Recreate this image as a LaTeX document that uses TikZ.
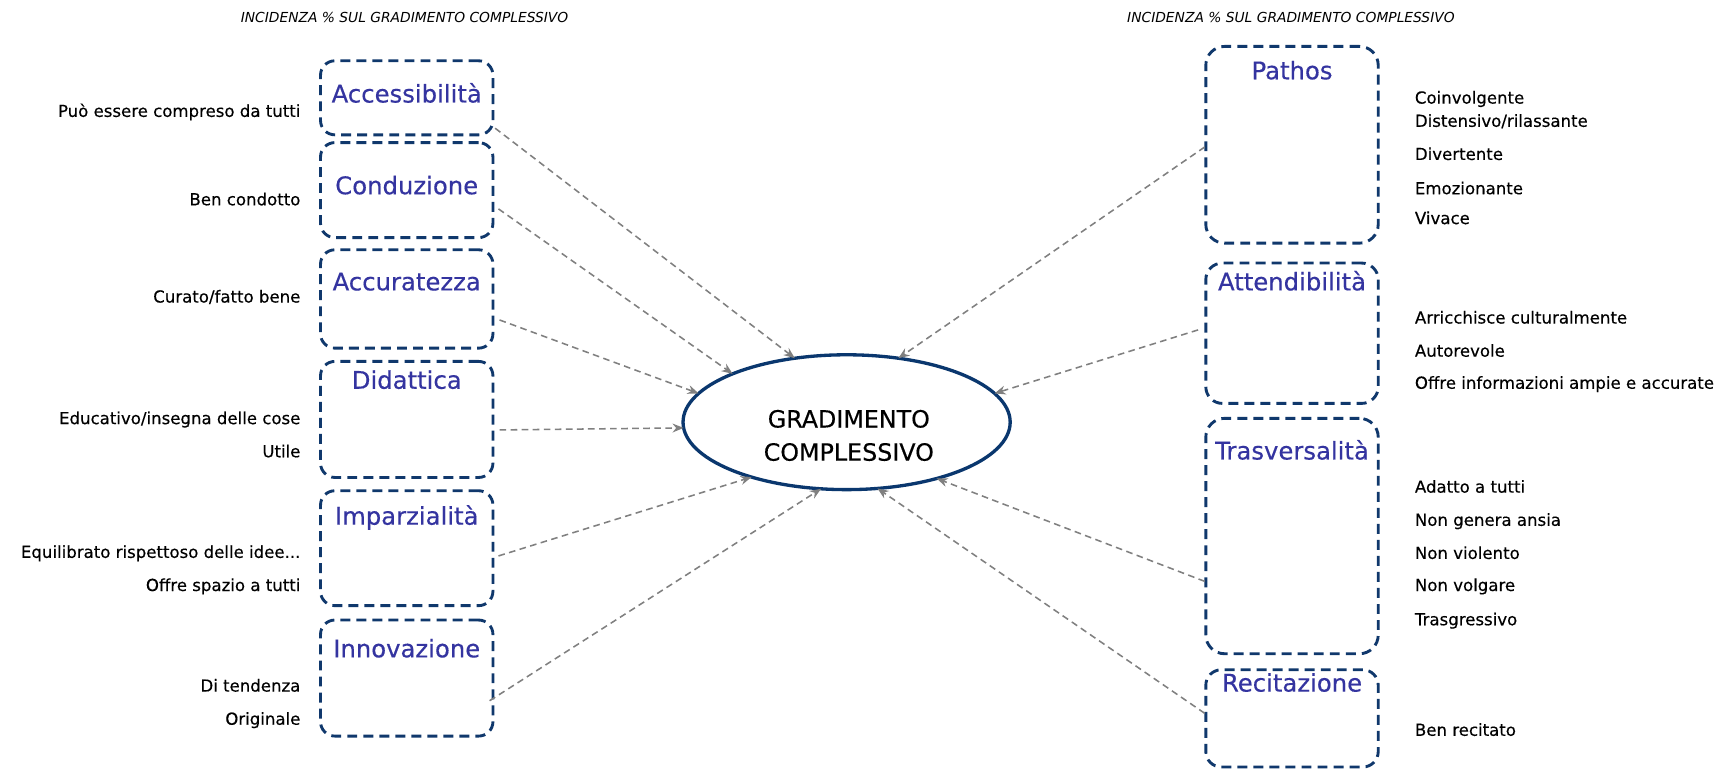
\documentclass[tikz,border=0pt]{standalone}
\usepackage{fontspec}
\setmainfont{DejaVu Sans}
\newfontfamily\medfont[FakeBold=0.35]{DejaVu Sans}
\usetikzlibrary{shapes.geometric,arrows.meta,calc}
\definecolor{navy}{RGB}{16,56,108}
\definecolor{ellnavy}{RGB}{10,55,110}
\definecolor{ttlblue}{RGB}{52,52,160}
\definecolor{arrgray}{RGB}{128,128,128}
\tikzset{
  dbox/.style={draw=navy, line width=2.6pt, dash pattern=on 9pt off 5.5pt,
    rounded corners=13pt, inner sep=0pt, outer sep=0pt, minimum width=156pt},
  ttl/.style={font=\medfont\fontsize{22}{24}\selectfont, text=ttlblue, inner sep=0pt, anchor=mid},
  lbl/.style={font=\medfont\fontsize{15}{17}\selectfont, text=black, inner sep=0pt},
  lbll/.style={lbl, anchor=mid east},
  lblr/.style={lbl, anchor=mid west},
  hdr/.style={font=\fontsize{12.5}{14}\selectfont\itshape, inner sep=0pt, anchor=mid},
  ell/.style={ellipse, draw=ellnavy, line width=3pt, fill=white, inner sep=0pt, outer sep=0pt},
  arr/.style={draw=arrgray, line width=1.4pt, dash pattern=on 6pt off 4pt,
    -{Stealth[length=10pt,width=8pt]}}
}
\begin{document}
\begin{tikzpicture}[x=1pt,y=-1pt]
\path[use as bounding box, fill=white] (0,0) rectangle (1568,696);

% headers
\node[hdr] (h1) at (366,18) {INCIDENZA \% SUL GRADIMENTO COMPLESSIVO};
\node[hdr] (h2) at (1168,18) {INCIDENZA \% SUL GRADIMENTO COMPLESSIVO};

% left boxes
\node[dbox, minimum height=67pt]  (acc)   at (368,88.5)  {};
\node[dbox, minimum height=86pt]  (cond)  at (368,172)   {};
\node[dbox, minimum height=89pt]  (accur) at (368,270.5) {};
\node[dbox, minimum height=105pt] (did)   at (368,379.5) {};
\node[dbox, minimum height=104pt] (imp)   at (368,496)   {};
\node[dbox, minimum height=105pt] (inn)   at (368,613.5) {};

\node[ttl] (tacc)   at (368,90)  {Accessibilità};
\node[ttl] (tcond)  at (368,173) {Conduzione};
\node[ttl] (taccur) at (368,260) {Accuratezza};
\node[ttl] (tdid)   at (368,349) {Didattica};
\node[ttl] (timp)   at (368,472) {Imparzialità};
\node[ttl] (tinn)   at (368,592) {Innovazione};

\node[lbll] (l1) at (272,103) {Può essere compreso da tutti};
\node[lbll] (l2) at (272,183) {Ben condotto};
\node[lbll] (l3) at (272,271) {Curato/fatto bene};
\node[lbll] (l4) at (272,381) {Educativo/insegna delle cose};
\node[lbll] (l5) at (272,411) {Utile};
\node[lbll] (l6) at (272,502) {Equilibrato rispettoso delle idee...};
\node[lbll] (l7) at (272,532) {Offre spazio a tutti};
\node[lbll] (l8) at (272,623) {Di tendenza};
\node[lbll] (l9) at (272,653) {Originale};

% right boxes
\node[dbox, minimum height=178pt, rounded corners=17pt] (pat) at (1169,131)   {};
\node[dbox, minimum height=127pt, rounded corners=15pt] (att) at (1169,301.5) {};
\node[dbox, minimum height=213pt, rounded corners=17pt] (tra) at (1169,485)   {};
\node[dbox, minimum height=88pt,  rounded corners=14pt] (rec) at (1169,650)   {};

\node[ttl] (tpat) at (1169,69)  {Pathos};
\node[ttl] (tatt) at (1169,260) {Attendibilità};
\node[ttl] (ttra) at (1169,413) {Trasversalità};
\node[ttl] (trec) at (1169,623) {Recitazione};

\node[lblr] (r1)  at (1280,91)  {Coinvolgente};
\node[lblr] (r2)  at (1280,112) {Distensivo/rilassante};
\node[lblr] (r3)  at (1280,142) {Divertente};
\node[lblr] (r4)  at (1280,173) {Emozionante};
\node[lblr] (r5)  at (1280,200) {Vivace};
\node[lblr] (r6)  at (1280,290) {Arricchisce culturalmente};
\node[lblr] (r7)  at (1280,320) {Autorevole};
\node[lblr] (r8)  at (1280,349) {Offre informazioni ampie e accurate};
\node[lblr] (r9)  at (1280,443) {Adatto a tutti};
\node[lblr] (r10) at (1280,473) {Non genera ansia};
\node[lblr] (r11) at (1280,503) {Non violento};
\node[lblr] (r12) at (1280,532) {Non volgare};
\node[lblr] (r13) at (1280,563) {Trasgressivo};
\node[lblr] (r14) at (1280,663) {Ben recitato};

% central ellipse
\node[ell, minimum width=296pt, minimum height=122pt] (g) at (766,382) {};
\node[font=\medfont\fontsize{21.5}{30}\selectfont, align=center, inner sep=0pt] (gt) at (768,394) {GRADIMENTO\\COMPLESSIVO};

% connectors
\draw[arr] ($(acc.east)+(2,27.5)$)  -- (g.129.7);
\draw[arr] ($(cond.east)+(5,17)$)   -- (g.157.6);
\draw[arr] ($(accur.east)+(6,19)$)  -- (g.169.6);
\draw[arr] ($(did.east)+(6,9.5)$)   -- (g.182.4);
\draw[arr] ($(imp.east)+(5,7)$)     -- (g.210.9);
\draw[arr] ($(inn.east)+(-3,20.5)$) -- (g.249.3);
\draw[arr] ($(pat.west)+(-1,2)$)    -- (g.51.1);
\draw[arr] ($(att.west)+(-7,-3)$)   -- (g.11.9);
\draw[arr] ($(tra.west)+(-1,41)$)   -- (g.328.8);
\draw[arr] ($(rec.west)+(-1,-4.6)$) -- (g.295.5);
\end{tikzpicture}
\end{document}
